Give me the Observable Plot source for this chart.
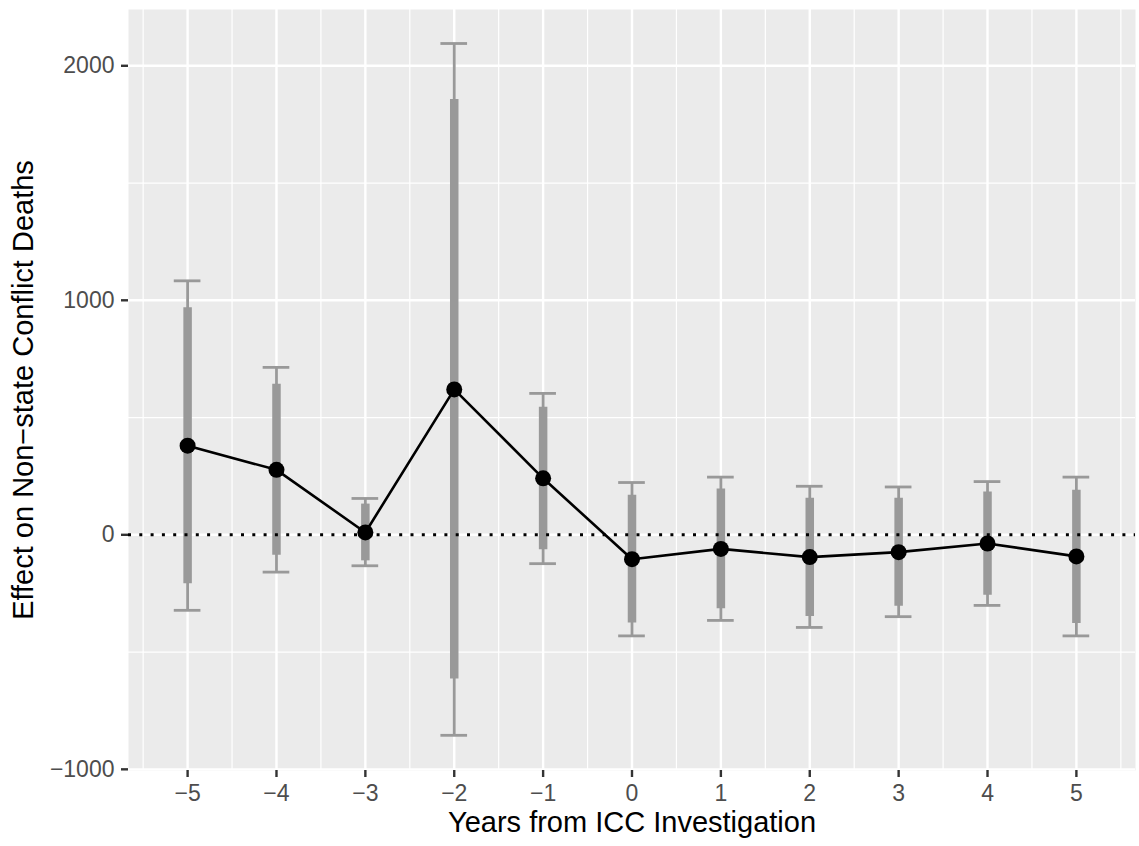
<!DOCTYPE html>
<html>
<head>
<meta charset="utf-8">
<script src="https://cdn.jsdelivr.net/npm/d3@7"></script>
<script src="https://cdn.jsdelivr.net/npm/@observablehq/plot@0.6"></script>
<style>
  html, body { margin: 0; padding: 0; background: #fff; }
  #chart svg { display: block; }
</style>
</head>
<body>
<div id="chart"></div>
<script>
// Data
const years = [-5, -4, -3, -2, -1, 0, 1, 2, 3, 4, 5];
const estimate = [380, 277, 10, 620, 241, -104, -60, -95, -74, -37, -92];
const lower90 = [-209, -87, -111, -615, -64, -376, -315, -348, -305, -258, -378];
const upper90 = [968, 642, 131, 1856, 544, 169, 195, 156, 156, 183, 190];
const lower95 = [-322, -159, -132, -855, -123, -431, -365, -395, -349, -301, -431];
const upper95 = [1083, 714, 155, 2095, 603, 223, 246, 207, 204, 227, 246];

const xTicks = [-5, -4, -3, -2, -1, 0, 1, 2, 3, 4, 5];
const xMinor = [-5.5, -4.5, -3.5, -2.5, -1.5, -0.5, 0.5, 1.5, 2.5, 3.5, 4.5, 5.5];
const yTicks = [-1000, 0, 1000, 2000];
const yMinor = [-500, 500, 1500];
const refLine = [0];

const xTitle = "Years from ICC Investigation";
const yTitle = "Effect on Non\u2212state Conflict Deaths";
const capHalfWidth = 0.15;

const data = years.map((x, i) => ({
  x, est: estimate[i], lo90: lower90[i], hi90: upper90[i], lo95: lower95[i], hi95: upper95[i]
}));

const fmt = d => d < 0 ? "\u2212" + Math.abs(d) : String(d);
const FONT = "'Liberation Sans', Arial, Helvetica, sans-serif";
const GREY = "#999999";

const chart = Plot.plot({
  width: 1139,
  height: 846,
  marginLeft: 128,
  marginRight: 4,
  marginTop: 9,
  marginBottom: 76,
  style: { fontFamily: FONT, background: "#ffffff" },
  x: { domain: [-5.665, 5.665], label: null },
  y: { domain: [-1005, 2240], label: null },
  marks: [
    Plot.frame({ fill: "#EBEBEB", stroke: "none" }),
    Plot.ruleX(xMinor, { stroke: "#ffffff", strokeWidth: 1.2 }),
    Plot.ruleY(yMinor, { stroke: "#ffffff", strokeWidth: 1.2 }),
    Plot.ruleX(xTicks, { stroke: "#ffffff", strokeWidth: 2.4 }),
    Plot.ruleY(yTicks, { stroke: "#ffffff", strokeWidth: 2.4 }),
    // 95% whiskers
    Plot.ruleX(data, { x: "x", y1: "lo95", y2: "hi95", stroke: GREY, strokeWidth: 2.8 }),
    Plot.ruleY(data, { y: "hi95", x1: d => d.x - capHalfWidth, x2: d => d.x + capHalfWidth, stroke: GREY, strokeWidth: 2.8 }),
    Plot.ruleY(data, { y: "lo95", x1: d => d.x - capHalfWidth, x2: d => d.x + capHalfWidth, stroke: GREY, strokeWidth: 2.8 }),
    // 90% thick bars
    Plot.ruleX(data, { x: "x", y1: "lo90", y2: "hi90", stroke: GREY, strokeWidth: 8.5, strokeLinecap: "butt" }),
    // zero reference
    Plot.ruleY(refLine, { stroke: "#000000", strokeWidth: 3, strokeDasharray: "3,8.3" }),
    Plot.line(data, { x: "x", y: "est", stroke: "#000000", strokeWidth: 2.6 }),
    Plot.dot(data, { x: "x", y: "est", r: 8, fill: "#000000", stroke: "none" }),
    Plot.axisX({ ticks: xTicks, tickFormat: fmt, tickSize: 7, tickPadding: 7, fontSize: 23,
      stroke: "#333333", strokeWidth: 2.4, fill: "#4D4D4D", label: null }),
    Plot.axisY({ ticks: yTicks, tickFormat: fmt, tickSize: 7, tickPadding: 7, fontSize: 23,
      stroke: "#333333", strokeWidth: 2.4, fill: "#4D4D4D", label: null }),
    Plot.text([xTitle], { text: d => d, frameAnchor: "bottom", lineAnchor: "bottom", dy: 61,
      fontSize: 29, fill: "#000000" }),
    Plot.text([yTitle], { text: d => d, frameAnchor: "left", textAnchor: "middle", rotate: -90, dx: -105,
      fontSize: 29, fill: "#000000" })
  ]
});
document.getElementById("chart").appendChild(chart);
</script>
</body>
</html>
